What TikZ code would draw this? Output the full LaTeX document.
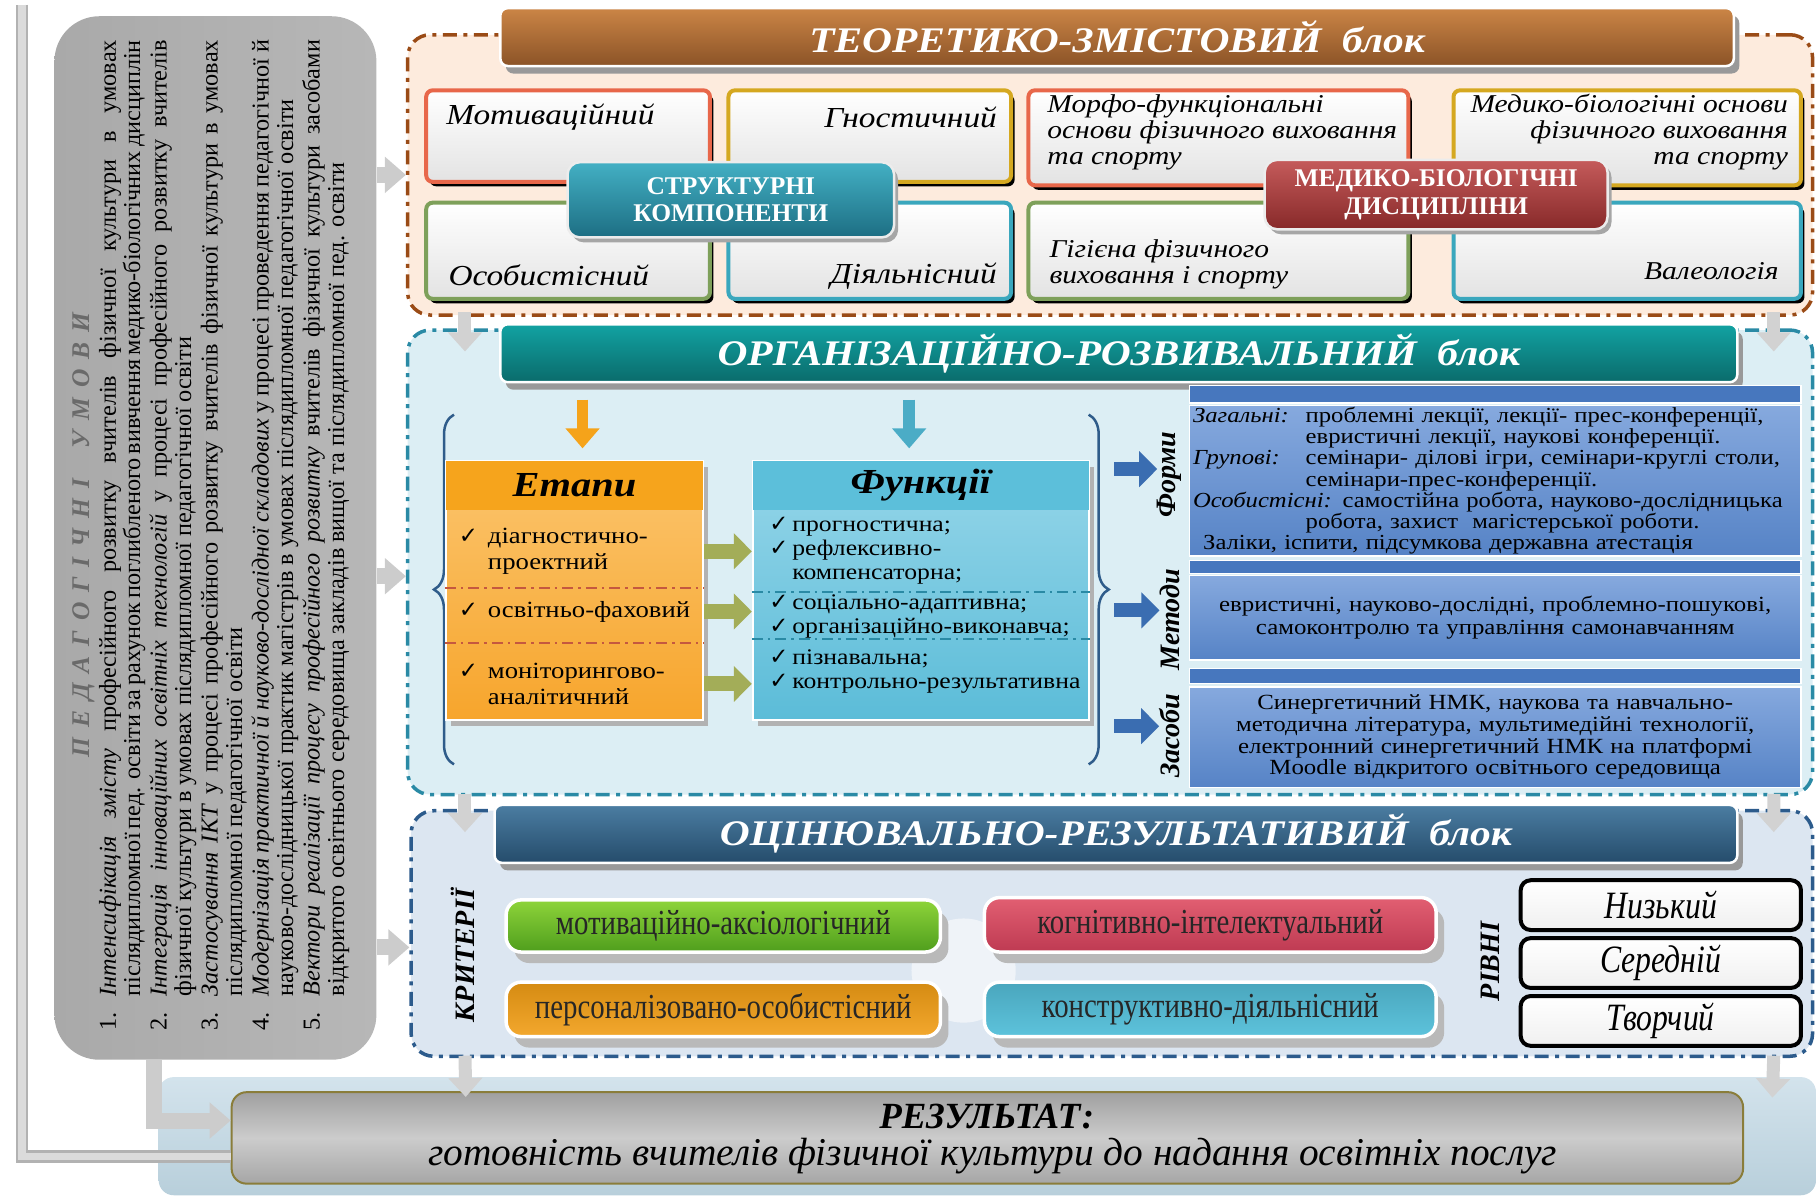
\documentclass[tikz,border=0pt]{standalone}
\usepackage{fontspec}
\setmainfont{Liberation Serif}
\newfontfamily\narrowfont[FakeStretch=0.82]{Liberation Serif}
\newfontfamily\wideserif[FakeStretch=1.15]{Liberation Serif}
\newfontfamily\symfont{DejaVu Sans}
\usetikzlibrary{arrows.meta, positioning, shadows, calc, decorations.pathreplacing}

% block colours
\definecolor{teo_fill}{HTML}{FDEBDD}
\definecolor{teo_line}{HTML}{9A4B16}
\definecolor{teo_top}{HTML}{CB8546}
\definecolor{teo_bot}{HTML}{8B5327}
\definecolor{org_fill}{HTML}{DCEEF4}
\definecolor{org_line}{HTML}{2A8AA5}
\definecolor{org_top}{HTML}{12A2A2}
\definecolor{org_bot}{HTML}{0A6B6B}
\definecolor{ocin_fill}{HTML}{DCE6F1}
\definecolor{ocin_line}{HTML}{2C5B8C}
\definecolor{ocin_top}{HTML}{4B7DA2}
\definecolor{ocin_bot}{HTML}{254C6B}
% box colours
\definecolor{b_red}{HTML}{E8674A}
\definecolor{b_gold}{HTML}{D5A820}
\definecolor{b_green}{HTML}{7EA05A}
\definecolor{b_teal}{HTML}{3AA7BD}
\definecolor{tag_teal_t}{HTML}{43B0C4}
\definecolor{tag_teal_b}{HTML}{1D6E83}
\definecolor{tag_red_t}{HTML}{C55B5B}
\definecolor{tag_red_b}{HTML}{872929}
\definecolor{et_head}{HTML}{F6A41C}
\definecolor{et_top}{HTML}{FBC56E}
\definecolor{et_bot}{HTML}{F7A52C}
\definecolor{fu_head}{HTML}{5CBFDA}
\definecolor{fu_top}{HTML}{96D6E9}
\definecolor{fu_bot}{HTML}{5BBCD8}
\definecolor{fm_strip}{HTML}{4777BE}
\definecolor{fm_top}{HTML}{86A9DE}
\definecolor{fm_bot}{HTML}{5683C6}
\definecolor{brace_blue}{HTML}{2F5C8A}
\definecolor{arr_blue}{HTML}{3A6DB1}
\definecolor{arr_olive}{HTML}{A3AD58}
\definecolor{arr_orange}{HTML}{F5A31A}
\definecolor{arr_teal}{HTML}{4BACC6}
\definecolor{cr_green_t}{HTML}{8ED43A}
\definecolor{cr_green_b}{HTML}{4F9E1D}
\definecolor{cr_red_t}{HTML}{E25F72}
\definecolor{cr_red_b}{HTML}{BE3A52}
\definecolor{cr_orng_t}{HTML}{D58B12}
\definecolor{cr_orng_b}{HTML}{F3A82E}
\definecolor{cr_teal_t}{HTML}{4AA6BD}
\definecolor{cr_teal_b}{HTML}{5DC3DC}
\definecolor{cond_l}{HTML}{A9A9A9}
\definecolor{cond_r}{HTML}{B7B7B7}
\definecolor{cond_title}{HTML}{6A6A6A}
\definecolor{res_line}{HTML}{8A7D3A}
\definecolor{resbg_t}{HTML}{D3E3EC}
\definecolor{resbg_b}{HTML}{B8CFDB}

\newcommand\pxu{0.2316mm}
\newcommand\ck[1]{\makebox[#1][l]{\symfont\fontsize{13}{13}\selectfont ✓}}

\begin{document}
\begin{tikzpicture}[x=\pxu, y=-\pxu, font=\fontsize{12}{13}\selectfont,
  sz/.style 2 args={minimum width=#1*\pxu, minimum height=#2*\pxu, inner sep=0pt},
  blk/.style={draw, line width=0.7mm, rounded corners=4.5mm,
              dash pattern=on 2.8mm off 1.3mm on 0.8mm off 1.3mm},
  ttl/.style={draw=white, line width=0.5mm, rounded corners=1.5mm, text=white,
              drop shadow={shadow xshift=1.1mm, shadow yshift=-1.5mm, fill=gray!80, opacity=1},
              font=\wideserif\fontsize{20.5}{24}\selectfont\bfseries\itshape},
  cbox/.style={line width=0.8mm, rounded corners=1.3mm, top color=white, bottom color=gray!22,
              drop shadow={shadow xshift=0.7mm, shadow yshift=-0.9mm, fill=black, opacity=1}},
  btxt/.style={inner sep=0pt, align=left, font=\wideserif\fontsize{16.5}{16}\selectfont\itshape},
  bltxt/.style={inner sep=0pt, align=left, font=\wideserif\fontsize{14.6}{14.8}\selectfont\itshape},
  tagbox/.style={draw=white!85!gray, line width=0.5mm, rounded corners=2.5mm, text=white,
              align=center, drop shadow={shadow xshift=0.8mm, shadow yshift=-1mm, fill=gray!70, opacity=1},
              font=\fontsize{14.5}{15.8}\selectfont\bfseries},
  colbox/.style={draw=white, line width=0.4mm,
              drop shadow={shadow xshift=1mm, shadow yshift=-1.2mm, fill=gray!60, opacity=1}},
  colhead/.style={font=\wideserif\fontsize{20}{24}\selectfont\bfseries\itshape},
  etitem/.style={anchor=west, align=left, inner sep=0pt, font=\wideserif\fontsize{13.2}{14.5}\selectfont},
  fuitem/.style={anchor=west, align=left, inner sep=0pt, font=\wideserif\fontsize{12.7}{13.6}\selectfont},
  dsep/.style={line width=0.45mm, dash pattern=on 2.2mm off 1mm on 0.5mm off 1mm},
  fmbox/.style={draw=white, line width=0.3mm, top color=fm_top, bottom color=fm_bot,
              text width=120.8mm, inner xsep=0.7mm, inner ysep=0pt},
  fmstrip/.style={draw=white, line width=0.3mm, fill=fm_strip},
  rlab/.style={rotate=90, inner sep=0pt, font=\fontsize{16}{18}\selectfont\bfseries\itshape},
  crit/.style={draw=white, line width=0.7mm, rounded corners=3mm,
              drop shadow={shadow xshift=1.6mm, shadow yshift=-2.2mm, fill=gray!55, opacity=1},
              font=\narrowfont\fontsize{20}{21}\selectfont, text=black!85},
  lvl/.style={draw=black, line width=0.8mm, rounded corners=2mm, top color=white, bottom color=gray!12,
              font=\narrowfont\fontsize{22}{23}\selectfont\itshape},
  garr/.style={-{Triangle[width=7mm, length=4.2mm]}, line width=3.2mm, draw=gray!40},
  darr/.style={-{Triangle[width=6.6mm, length=3.8mm]}, line width=2.6mm, draw=gray!35},
  sarr/.style={-{Triangle[width=7mm, length=3.6mm]}, line width=3mm, draw=arr_olive},
  barr/.style={-{Triangle[width=7mm, length=3.6mm]}, line width=2.8mm, draw=arr_blue},
  varr/.style={-{Triangle[width=6.6mm, length=4mm]}, line width=2.3mm},
  brc/.style={decorate, decoration={brace, amplitude=4mm}, line width=0.5mm, draw=brace_blue},
  lline/.style={draw=gray!60, line width=2.5mm, postaction={draw=gray!28, line width=1.5mm}}]

\useasboundingbox (0,0) rectangle (1568,1032);

% result
\node[sz={1431}{102}, rounded corners=3mm, top color=resbg_t, bottom color=resbg_b] (resbg) at (852.5,981) {};
\node[sz={1305}{79}, rounded corners=3mm, draw=res_line, line width=0.4mm,
      top color=gray!75, bottom color=gray!70, middle color=gray!40] (res) at (852.5,982.5) {};
\node[inner sep=0pt, font=\fontsize{21}{22}\selectfont\bfseries\itshape] (restitle) at (852,964) {РЕЗУЛЬТАТ:};
\node[inner sep=0pt, font=\fontsize{22.4}{24}\selectfont\itshape] (restext) at (857,998)
  {готовність вчителів фізичної культури до надання освітніх послуг};

% pedagogical conditions
\node[sz={278}{901}, rounded corners=9mm, left color=cond_l, right color=cond_r] (panel) at (186,464.5) {};
\node[rotate=90, inner sep=0pt] (cond) at (182,462) {\begin{minipage}{198mm}
  \fontsize{13.8}{13.9}\selectfont\parindent=0pt\parskip=1.2pt
  {\centering\color{cond_title}\fontsize{14.5}{18}\selectfont\bfseries\itshape
   \makebox[89mm][s]{П\hfil Е\hfil Д\hfil А\hfil Г\hfil О\hfil Г\hfil І\hfil Ч\hfil Н\hfil І\hfil\hfil\hfil У\hfil М\hfil О\hfil В\hfil И}\par}
  \hangindent=1.4em\hangafter=1\makebox[1.4em][l]{1.}\textit{Інтенсифікація змісту} професійного розвитку вчителів фізичної культури в умовах\linebreak
  післядипломної пед. освіти за рахунок поглибленого вивчення медико-біологічних дисциплін\par
  \hangindent=1.4em\hangafter=1\makebox[1.4em][l]{2.}\textit{Інтеграція інноваційних освітніх технологій} у процесі професійного розвитку вчителів\linebreak
  фізичної культури в умовах післядипломної педагогічної освіти\par
  \hangindent=1.4em\hangafter=1\makebox[1.4em][l]{3.}\textit{Застосування ІКТ} у процесі професійного розвитку вчителів фізичної культури в умовах\linebreak
  післядипломної педагогічної освіти\par
  \hangindent=1.4em\hangafter=1\makebox[1.4em][l]{4.}\textit{Модернізація практичної й науково-дослідної складових} у процесі проведення педагогічної й\linebreak
  науково-дослідницької практик магістрів в умовах післядипломної педагогічної освіти\par
  \hangindent=1.4em\hangafter=1\makebox[1.4em][l]{5.}\textit{Вектори реалізації процесу професійного розвитку} вчителів фізичної культури засобами\linebreak
  відкритого освітнього середовища закладів вищої та післядипломної пед. освіти\par
\end{minipage}};

% theoretical block
\node[blk, draw=teo_line, fill=teo_fill, sz={1213}{242}] (teo) at (958.5,151) {};
\node[ttl, top color=teo_top, bottom color=teo_bot, sz={1065}{50}] (teot) at (964.5,32) {ТЕОРЕТИКО-ЗМІСТОВИЙ~~блок};
\node[cbox, draw=b_red, sz={245}{79}] (mot) at (490.5,117.5) {};
\node[cbox, draw=b_gold, sz={244}{79}] (gno) at (751,117.5) {};
\node[cbox, draw=b_green, sz={245}{83}] (osob) at (490.5,216.5) {};
\node[cbox, draw=b_teal, sz={244}{83}] (diyal) at (751,216.5) {};
\node[cbox, draw=b_red, sz={328}{82}] (morf) at (1052,119) {};
\node[cbox, draw=b_gold, sz={300}{82}] (medb) at (1405,119) {};
\node[cbox, draw=b_green, sz={328}{83}] (gig) at (1052,216.5) {};
\node[cbox, draw=b_teal, sz={300}{83}] (val) at (1405,216.5) {};
\node[btxt, anchor=west] (mot_t) at (385,101) {Мотиваційний};
\node[btxt, anchor=east] (gno_t) at (861,101) {Гностичний};
\node[btxt, anchor=west] (osob_t) at (387,238) {Особистісний};
\node[btxt, anchor=east] (diyal_t) at (861,238) {Діяльнісний};
\node[bltxt, anchor=west] (morf_t) at (904,114) {Морфо-функціональні\\основи фізичного виховання\\та спорту};
\node[bltxt, anchor=east, align=right] (medb_t) at (1544,114) {Медико-біологічні основи\\фізичного виховання\\та спорту};
\node[bltxt, anchor=west] (gig_t) at (906,228) {Гігієна фізичного\\виховання і спорту};
\node[bltxt, anchor=east] (val_t) at (1536,234) {Валеологія};
\node[tagbox, top color=tag_teal_t, bottom color=tag_teal_b, sz={282}{65}] (struk) at (631,172.5) {СТРУКТУРНІ\\КОМПОНЕНТИ};
\node[tagbox, top color=tag_red_t, bottom color=tag_red_b, sz={296}{60}] (mbd) at (1240,168) {МЕДИКО-БІОЛОГІЧНІ\\ДИСЦИПЛІНИ};

% organisational block
\node[blk, draw=org_line, fill=org_fill, sz={1213}{401}] (org) at (958.5,485.5) {};
\node[ttl, top color=org_top, bottom color=org_bot, sz={1068}{50}] (orgt) at (966,305) {ОРГАНІЗАЦІЙНО-РОЗВИВАЛЬНИЙ~~блок};
\draw[brc] (392,660) -- (392,358);
\draw[brc] (940,358) -- (940,660);
\node[colbox, top color=et_top, bottom color=et_bot, sz={222}{224}] (etapy) at (496,510) {};
\node[colhead, fill=et_head, sz={222}{42}] (etaph) at (496,419) {Етапи};
\node[colbox, top color=fu_top, bottom color=fu_bot, sz={290}{224}] (funk) at (795,510) {};
\node[colhead, fill=fu_head, sz={290}{42}] (funkh) at (795,419) {Функції};
\draw[dsep, draw=b_red!85!black] ([shift={(0,-2)}]etapy.west) -- ([shift={(0,-2)}]etapy.east);
\draw[dsep, draw=b_red!85!black] ([shift={(0,45)}]etapy.west) -- ([shift={(0,45)}]etapy.east);
\draw[dsep, draw=org_line] ([shift={(0,1)}]funk.west) -- ([shift={(0,1)}]funk.east);
\draw[dsep, draw=org_line] ([shift={(0,42)}]funk.west) -- ([shift={(0,42)}]funk.east);
\node[etitem] (et1) at (396,476) {\ck{5.8mm}діагностично-\\\hspace*{5.8mm}проектний};
\node[etitem] (et2) at (396,528) {\ck{5.8mm}освітньо-фаховий};
\node[etitem] (et3) at (396,590.5) {\ck{5.8mm}моніторингово-\\\hspace*{5.8mm}аналітичний};
\node[fuitem] (fu1) at (664,475.5) {\ck{4.6mm}прогностична;\\\ck{4.6mm}рефлексивно-\\\hspace*{4.6mm}компенсаторна;};
\node[fuitem] (fu2) at (664,532.5) {\ck{4.6mm}соціально-адаптивна;\\\ck{4.6mm}організаційно-виконавча;};
\node[fuitem] (fu3) at (664,580) {\ck{4.6mm}пізнавальна;\\\ck{4.6mm}контрольно-результативна};
\draw[sarr] (et1 -| etapy.east) -- (et1 -| funk.west);
\draw[sarr] (et2 -| etapy.east) -- (et2 -| funk.west);
\draw[sarr] (et3 -| etapy.east) -- (et3 -| funk.west);
\draw[varr, draw=arr_orange] ([shift={(7,-52)}]etapy.north) -- ([shift={(7,-10)}]etapy.north);
\draw[varr, draw=arr_teal] ([shift={(-10,-52)}]funk.north) -- ([shift={(-10,-10)}]funk.north);

\node[fmstrip, sz={528}{15}] (fstrip) at (1291,340.5) {};
\node[fmbox, minimum height=130*\pxu, align=left, font=\wideserif\fontsize{12.2}{12}\selectfont] (forms) at (1291,415)
  {\makebox[22.5mm][l]{\textit{Загальні:}}проблемні лекції, лекції- прес-конференції,\\
   \hspace*{22.5mm}евристичні лекції, наукові конференції.\\
   \makebox[22.5mm][l]{\textit{Групові:}}семінари- ділові ігри, семінари-круглі столи,\\
   \hspace*{22.5mm}семінари-прес-конференції.\\
   \textit{Особистісні:} самостійна робота, науково-дослідницька\\
   \hspace*{22.5mm}робота, захист\ \ магістерської роботи.\\
   \hspace*{2mm}Заліки, іспити, підсумкова державна атестація};
\node[fmstrip, sz={528}{11}] (mstrip) at (1291,489.5) {};
\node[fmbox, minimum height=73*\pxu, align=center, font=\wideserif\fontsize{12.3}{13.2}\selectfont] (meth) at (1291,533.5)
  {евристичні, науково-дослідні, проблемно-пошукові,\\самоконтролю та управління самонавчанням};
\node[fmstrip, sz={528}{13}] (zstrip) at (1291,583.5) {};
\node[fmbox, minimum height=87*\pxu, align=center, font=\wideserif\fontsize{12.3}{12.3}\selectfont] (means) at (1291,636.5)
  {Синергетичний НМК, наукова та навчально-\\методична література, мультимедійні технології,\\електронний синергетичний НМК на платформі\\Moodle відкритого освітнього середовища};
\node[rlab] (lforms) at (1010,410) {Форми};
\node[rlab] (lmeth) at (1010,535) {Методи};
\node[rlab] (lmeans) at (1010,635) {Засоби};
\coordinate (fa) at (962,405);
\coordinate (ma) at (962,527);
\coordinate (za) at (962,627);
\draw[barr] (fa) -- (fa -| lforms.north);
\draw[barr] (ma) -- (ma -| lmeth.north);
\draw[barr] (za) -- (za -| lmeans.north);

% evaluation block
\node[blk, draw=ocin_line, fill=ocin_fill, sz={1210}{212}] (ocin) at (960,806) {};
\node[ttl, top color=ocin_top, bottom color=ocin_bot, sz={1073}{50}] (ocint) at (963.5,720) {ОЦІНЮВАЛЬНО-РЕЗУЛЬТАТИВИЙ~~блок};
\node[rlab] (lcrit) at (400,825) {КРИТЕРІЇ};
\node[circle, fill=white, opacity=0.55, minimum size=90*\pxu] (hub) at (832,838) {};
\node[crit, top color=cr_green_t, bottom color=cr_green_b, sz={375}{45}] (cmot) at (624.5,799.5) {мотиваційно-аксіологічний};
\node[crit, top color=cr_red_t, bottom color=cr_red_b, sz={390}{47}] (ckog) at (1045,798.5) {когнітивно-інтелектуальний};
\node[crit, top color=cr_orng_t, bottom color=cr_orng_b, sz={375}{47}] (cper) at (624.5,871.5) {персоналізовано-особистісний};
\node[crit, top color=cr_teal_t, bottom color=cr_teal_b, sz={390}{47}] (ckon) at (1045,871.5) {конструктивно-діяльнісний};
\node[rlab] (lriv) at (1287,830) {РІВНІ};
\node[lvl, sz={242}{43}] (low) at (1434,781.5) {Низький};
\node[lvl, sz={242}{43}] (midl) at (1434,831.5) {Середній};
\node[lvl, sz={242}{43}] (high) at (1434,881.5) {Творчий};

% links between the blocks
\coordinate (om) at ([shift={(0,12)}]org.west);
\coordinate (cm) at ([shift={(0,12)}]ocin.west);
\draw[garr] (panel.east |- teo.west) -- (teo.west);
\draw[garr] (panel.east |- om) -- (om);
\draw[garr] (panel.east |- cm) -- (cm);
\draw[darr] ([shift={(51,-4)}]teo.south west) -- ([shift={(51,20)}]org.north west);
\draw[darr] ([shift={(-35,-4)}]teo.south east) -- ([shift={(-35,20)}]org.north east);
\draw[darr] ([shift={(51,-2)}]org.south west) -- ([shift={(48,20)}]ocin.north west);
\draw[darr] ([shift={(-35,-2)}]org.south east) -- ([shift={(-35,20)}]ocin.north east);
\draw[darr] ([shift={(48,-2)}]ocin.south west) -- ([shift={(203,5)}]res.north west);
\draw[darr] ([shift={(-35,-2)}]ocin.south east) -- ([shift={(-38,18)}]resbg.north east);
\coordinate (ltop) at (19,4);
\draw[lline] (ltop) |- ([shift={(0,16)}]res.west);
\draw[garr] ([shift={(-53,0)}]panel.south) |- ([shift={(0,-15)}]res.west);
\end{tikzpicture}
\end{document}
